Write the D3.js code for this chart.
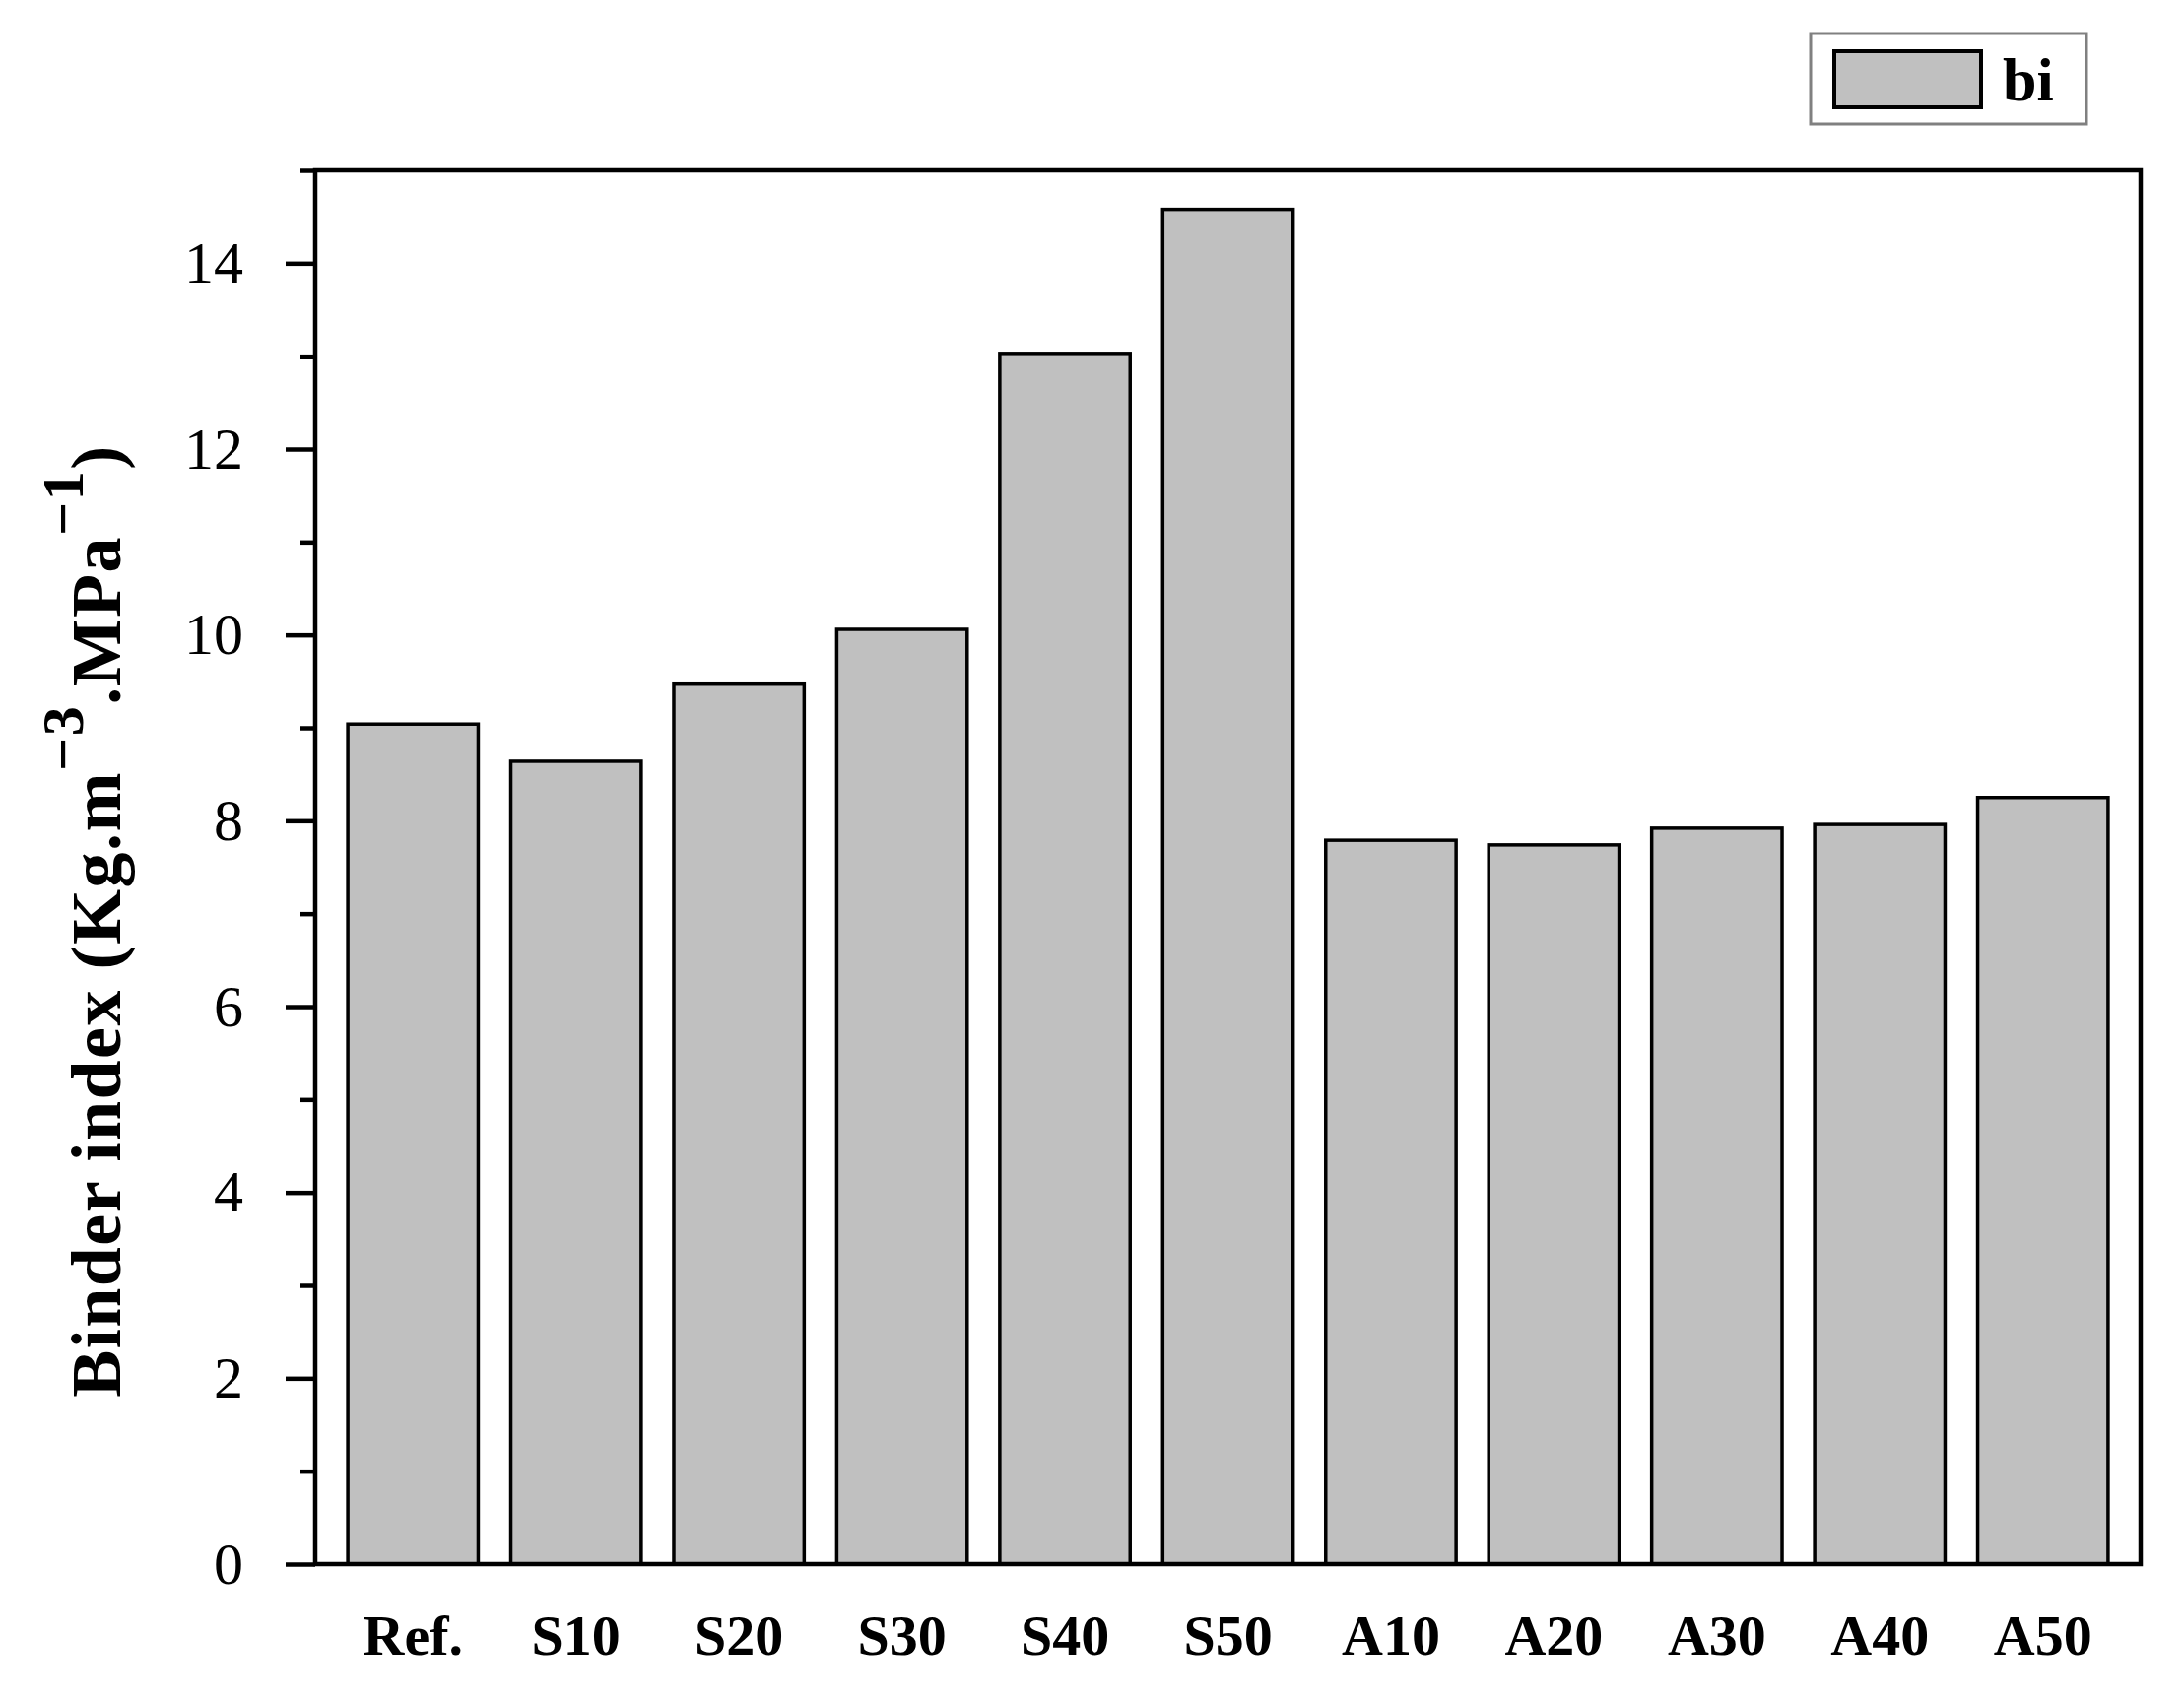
<!DOCTYPE html>
<html>
<head>
<meta charset="utf-8">
<script src="https://cdn.jsdelivr.net/npm/d3@7"></script>
<style>
  body { margin: 0; background: #fff; }
  svg { display: block; font-family: "Liberation Serif", "Times New Roman", serif; }
</style>
</head>
<body>
<div id="chart"></div>
<script>
// Data
const categories = ["Ref.", "S10", "S20", "S30", "S40", "S50", "A10", "A20", "A30", "A40", "A50"];
const biValues = [9.04, 8.64, 9.48, 10.06, 13.03, 14.58, 7.79, 7.74, 7.92, 7.96, 8.25];
const seriesNames = ["bi"];
const majorTicks = [0, 2, 4, 6, 8, 10, 12, 14];
const minorTicks = [1, 3, 5, 7, 9, 11, 13, 15];

const W = 2217, H = 1725;
const plot = {left: 320, right: 2173, top: 173, bottom: 1588};
const barFill = "#c0c0c0";

const svg = d3.select("#chart")
    .append("svg")
    .attr("width", W)
    .attr("height", H);

const x = d3.scaleBand()
    .domain(categories)
    .range([plot.left, plot.right])
    .padding(0.2);

const y = d3.scaleLinear()
    .domain([0, 15])
    .range([plot.bottom, plot.top]);

// Bars
svg.selectAll(".bar")
    .data(categories.map((c, i) => ({cat: c, value: biValues[i]})))
    .enter()
    .append("rect")
    .attr("class", "bar")
    .attr("x", d => x(d.cat))
    .attr("y", d => y(d.value))
    .attr("width", x.bandwidth())
    .attr("height", d => y(0) - y(d.value))
    .attr("fill", barFill)
    .attr("stroke", "#000")
    .attr("stroke-width", 3.5);

// Minor ticks on the left
svg.append("g")
    .attr("transform", `translate(${plot.left},0)`)
    .call(d3.axisLeft(y).tickValues(minorTicks).tickSize(15).tickFormat(""))
    .call(g => g.select(".domain").remove())
    .call(g => g.selectAll("line").attr("stroke-width", 4.5));

// Major ticks + labels
svg.append("g")
    .attr("transform", `translate(${plot.left},0)`)
    .call(d3.axisLeft(y).tickValues(majorTicks).tickSize(30).tickPadding(43))
    .call(g => g.select(".domain").remove())
    .call(g => g.selectAll("line").attr("stroke-width", 4.5))
    .call(g => g.selectAll("text")
        .attr("fill", "#000")
        .style("font-size", "60px")
        .style("font-family", "'Liberation Serif', serif"));

// X axis labels
svg.append("g")
    .attr("transform", `translate(0,${plot.bottom})`)
    .call(d3.axisBottom(x).tickSize(0))
    .call(g => g.select(".domain").remove())
    .call(g => g.selectAll("text")
        .attr("y", 92)
        .attr("dy", 0)
        .attr("fill", "#000")
        .style("font-size", "58px")
        .style("font-weight", "bold")
        .style("font-family", "'Liberation Serif', serif"));

// Plot frame
svg.append("rect")
    .attr("x", plot.left)
    .attr("y", plot.top)
    .attr("width", plot.right - plot.left)
    .attr("height", plot.bottom - plot.top)
    .attr("fill", "none")
    .attr("stroke", "#000")
    .attr("stroke-width", 4.5);

// Y axis title with superscripts
const yTitle = svg.append("text")
    .attr("transform", "translate(122,935) rotate(-90)")
    .attr("text-anchor", "middle")
    .style("font-size", "72px")
    .style("letter-spacing", "1.5px")
    .style("font-weight", "bold");
yTitle.append("tspan").text("Binder index (Kg.m");
yTitle.append("tspan").attr("dy", -38).style("font-size", "60px").text("\u22123");
yTitle.append("tspan").attr("dy", 38).text(".MPa");
yTitle.append("tspan").attr("dy", -38).style("font-size", "60px").text("\u22121");
yTitle.append("tspan").attr("dy", 38).text(")");

// Legend
const legend = svg.append("g");
legend.append("rect")
    .attr("x", 1838).attr("y", 34)
    .attr("width", 280).attr("height", 92)
    .attr("fill", "#fff")
    .attr("stroke", "#808080")
    .attr("stroke-width", 3);
legend.selectAll(".swatch")
    .data(seriesNames)
    .enter()
    .append("rect")
    .attr("class", "swatch")
    .attr("x", 1862).attr("y", 52)
    .attr("width", 149).attr("height", 57)
    .attr("fill", barFill)
    .attr("stroke", "#000")
    .attr("stroke-width", 4);
legend.selectAll(".legend-label")
    .data(seriesNames)
    .enter()
    .append("text")
    .attr("class", "legend-label")
    .attr("x", 2033).attr("y", 102)
    .style("font-size", "62px")
    .style("font-weight", "bold")
    .text(d => d);
</script>
</body>
</html>
